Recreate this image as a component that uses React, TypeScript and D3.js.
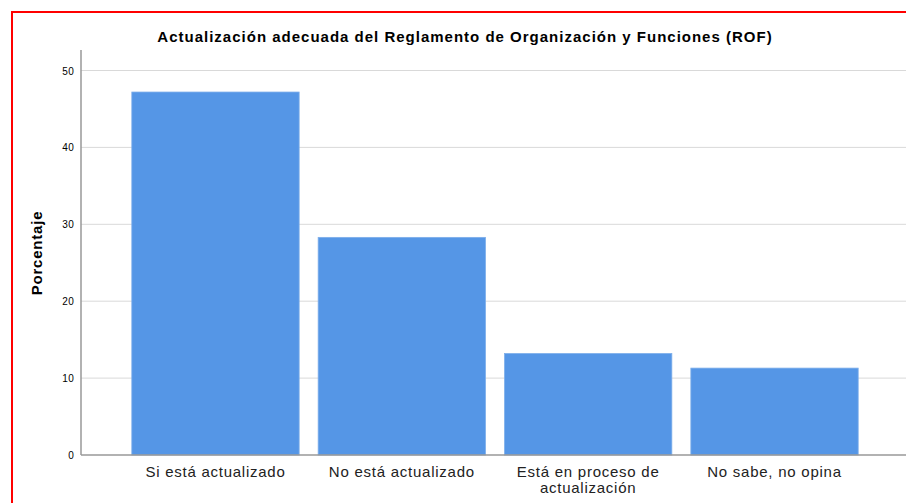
import React from "react";
import * as d3 from "d3";

const categories: string[][] = [
  ["Si está actualizado"],
  ["No está actualizado"],
  ["Está en proceso de", "actualización"],
  ["No sabe, no opina"],
];
const values: number[] = [47.2, 28.3, 13.2, 11.3];
const yTicks: number[] = [0, 10, 20, 30, 40, 50];
const title = "Actualización adecuada del Reglamento de Organización y Funciones (ROF)";
const yLabel = "Porcentaje";

export default function App() {
  const W = 906, H = 503;
  const x0 = 81, xEnd = 906;
  const y = d3.scaleLinear().domain([0, 50]).range([455, 70.5]);
  const x = d3
    .scaleBand<number>()
    .domain(values.map((_, i) => i))
    .range([122.5, 867.5])
    .paddingInner(0.102)
    .paddingOuter(0.05);
  const font = "Arial, 'Liberation Sans', sans-serif";
  return (
    <svg
      width={W}
      height={H}
      style={{ position: "absolute", left: 0, top: 0, background: "#fff" }}
      fontFamily={font}
    >
      <rect x={12} y={12} width={W + 10} height={H + 10} fill="none" stroke="#ff0000" strokeWidth={2} />
      <text x={465} y={42} textAnchor="middle" fontSize={15} fontWeight="bold" fill="#000" letterSpacing={1.0}>
        {title}
      </text>
      {yTicks.map((t) => (
        <g key={t}>
          {t > 0 && (
            <line x1={x0} x2={xEnd} y1={y(t)} y2={y(t)} stroke="#d9d9d9" strokeWidth={1} />
          )}
          <text x={74} y={y(t) + 4} textAnchor="end" fontSize={10} fill="#000" letterSpacing={0.3}>
            {t}
          </text>
        </g>
      ))}
      {values.map((v, i) => (
        <rect
          key={i}
          x={x(i)!}
          y={y(v)}
          width={x.bandwidth()}
          height={y(0) - y(v)}
          fill="#5596e6"
          stroke="#7eaeea"
          strokeWidth={0.8}
        />
      ))}
      <line x1={x0} x2={x0} y1={50} y2={y(0)} stroke="#999" strokeWidth={1.5} />
      <line x1={x0} x2={xEnd} y1={y(0)} y2={y(0)} stroke="#999" strokeWidth={1.5} />
      {categories.map((lines, i) => (
        <text
          key={i}
          x={x(i)! + x.bandwidth() / 2}
          y={477}
          textAnchor="middle"
          fontSize={15}
          fill="#222"
          letterSpacing={0.75}
        >
          {lines.map((l, j) => (
            <tspan key={j} x={x(i)! + x.bandwidth() / 2} dy={j === 0 ? 0 : 16}>
              {l}
            </tspan>
          ))}
        </text>
      ))}
      <text
        transform={`translate(42, 253) rotate(-90)`}
        textAnchor="middle"
        fontSize={15}
        fontWeight="bold"
        fill="#000"
        letterSpacing={0.8}
      >
        {yLabel}
      </text>
    </svg>
  );
}
